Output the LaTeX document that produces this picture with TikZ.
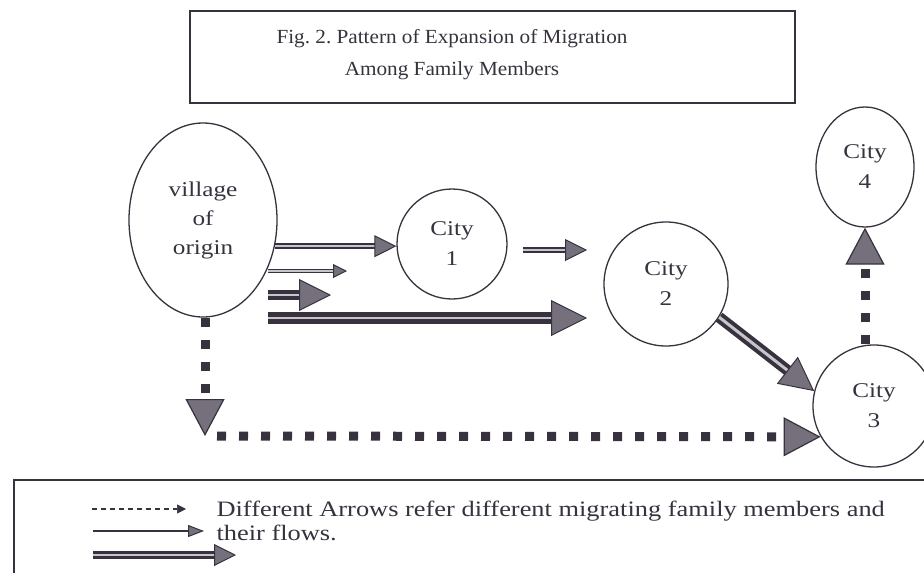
\documentclass[tikz,border=0pt]{standalone}
\usepackage{fontspec}
\setmainfont[FakeStretch=1.2]{Liberation Serif}
\newfontfamily\titlefont[FakeStretch=1.06]{Liberation Serif}
\newfontfamily\legfont[FakeStretch=1.2]{Liberation Serif}
\usetikzlibrary{arrows.meta,shapes.geometric,calc}
\definecolor{ink}{RGB}{55,50,62}
\definecolor{headfill}{RGB}{118,112,124}
\definecolor{gapcol}{RGB}{200,196,204}
\begin{document}
\begin{tikzpicture}[x=1pt,y=-1pt,
  txt/.style={font=\fontsize{21}{30}\selectfont, align=center, text=ink},
  place/.style={draw=ink, line width=1.3pt, inner sep=0pt, txt},
  hd/.style={-{Triangle[length=#1,width=#1,fill=headfill,line width=1pt]}},
  dblarrow/.style={draw=ink, double=gapcol},
  dotarrow/.style={draw=ink, line width=9pt, dash pattern=on 9pt off 13pt,
     -{Triangle[length=37pt,width=39pt,fill=headfill,line width=1.2pt]}},
]
\useasboundingbox (0,0) rectangle (924,573);
\fill[white] (0,0) rectangle (924,573);

% title
\node[draw=ink, line width=1.5pt, minimum width=605pt, minimum height=92pt] (title) at (492.5,57) {};
\node[txt, font=\titlefont\fontsize{20}{32}\selectfont] (titletext) at (452,55)
  {Fig.\ 2.\ Pattern of Expansion of Migration\\Among Family Members};

% places
\node[place, ellipse, minimum width=148pt, minimum height=194pt,
      font=\fontsize{21}{29}\selectfont] (v) at (203,220)
  {village\\of\\origin};
\node[place, circle, minimum size=110pt] (c1) at (452,244) {City\\1};
\node[place, circle, minimum size=124pt] (c2) at (666,284) {City\\2};
\node[place, circle, minimum size=122pt] (c3) at (874,406) {City\\3};
\node[place, ellipse, minimum width=98pt, minimum height=120pt] (c4) at (865,167) {City\\4};

% free ends
\coordinate (a2s) at (268,271);
\coordinate (a2e) at (347,271);
\coordinate (a3s) at (268,295);
\coordinate (a3e) at (331,295);
\coordinate (a4s) at (268,318);
\coordinate (a4e) at (587,318);
\coordinate (a5s) at (523,250);
\coordinate (a5e) at (587,250);
\coordinate (d1) at (205,436);
\coordinate (d2) at (217,436);

% double-line arrows
\draw[dblarrow, line width=1.6pt, double distance=2.4pt, hd=22pt] (v.-20) -- (v.-20 -| c1.west);
\draw[dblarrow, line width=1pt, double distance=1.5pt, hd=14pt] (a2s) -- (a2e);
\draw[dblarrow, line width=4pt, double distance=2pt, hd=32pt] (a3s) -- (a3e);
\draw[dblarrow, line width=5pt, double distance=2pt, hd=36pt] (a4s) -- (a4e);
\draw[dblarrow, line width=2.2pt, double distance=2pt, hd=22pt] (a5s) -- (a5e);
\draw[dblarrow, line width=4pt, double distance=3pt, hd=34pt] (c2.-32) -- (c3.166);

% dotted arrows
\draw[dotarrow] (v.south -| d1) -- (d1);
\draw[dotarrow] (d2) -- (c3.210);
\draw[dotarrow] (c3.north -| c4.south) -- (c4.south);

% legend
\draw[ink, line width=1.5pt] (930,480) -- (14,480) -- (14,580);
\coordinate (l1s) at (92,509);  \coordinate (l1e) at (186,509);
\coordinate (l2s) at (93,531);  \coordinate (l2e) at (204,531);
\coordinate (l3s) at (93,555);  \coordinate (l3e) at (236,555);
\draw[ink, line width=1.3pt, dash pattern=on 5pt off 4pt,
      -{Triangle[length=9pt,width=9pt,fill=ink,line width=0.5pt]}] (l1s) -- (l1e);
\draw[ink, line width=2.4pt,
      -{Triangle[length=16pt,width=12pt,fill=headfill,line width=1pt]}] (l2s) -- (l2e);
\draw[dblarrow, line width=3pt, double distance=2pt, hd=22pt] (l3s) -- (l3e);
\node[txt, anchor=west, align=left, font=\legfont\fontsize{22}{24}\selectfont] (legtext) at (213,521)
  {Different Arrows refer different migrating family members and\\their flows.};
\end{tikzpicture}
\end{document}
